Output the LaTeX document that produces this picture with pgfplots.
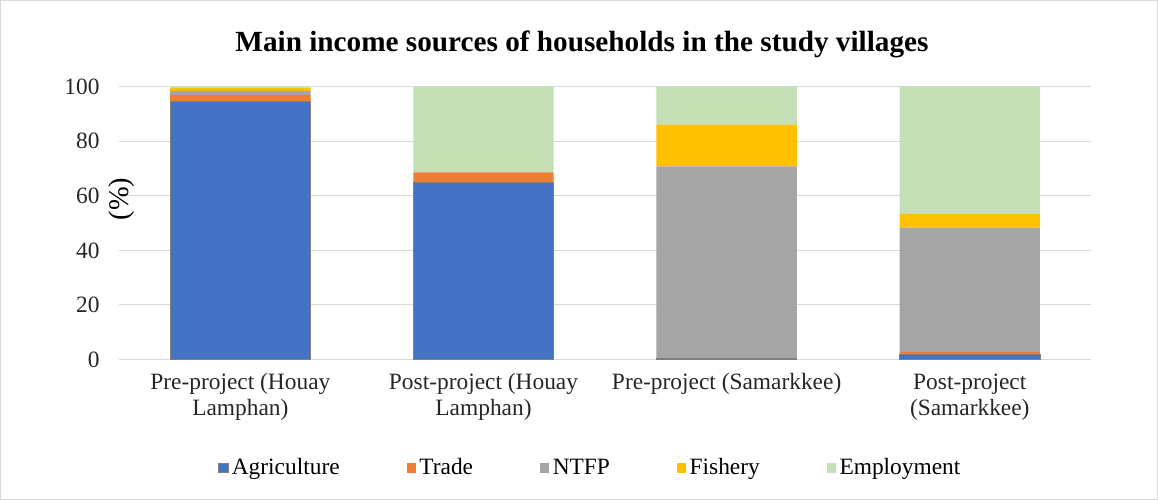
\documentclass[border=0pt]{standalone}
\usepackage{pgfplots}
\pgfplotsset{compat=1.18}
\usepackage{fontspec}
\setmainfont{Liberation Serif}
\definecolor{cAgr}{HTML}{4472C4}
\definecolor{cTra}{HTML}{ED7D31}
\definecolor{cNTF}{HTML}{A5A5A5}
\definecolor{cFis}{HTML}{FFC000}
\definecolor{cEmp}{HTML}{C5E0B4}
\definecolor{cGrid}{HTML}{D9D9D9}
\begin{document}
\begin{tikzpicture}
\draw[cGrid, line width=0.6pt] (-70.8pt,-84pt) rectangle (621.6pt,214.8pt);
\begin{axis}[
  at={(0,0)}, anchor=south west,
  scale only axis, width=582pt, height=163.2pt,
  ybar stacked, bar width=84pt,
  xmin=-0.5, xmax=3.5, ymin=0, ymax=100,
  xtick={0,1,2,3},
  xticklabels={{Pre-project (Houay\\Lamphan)},{Post-project (Houay\\Lamphan)},{Pre-project (Samarkkee)},{Post-project\\(Samarkkee)}},
  xticklabel style={align=center, font=\fontsize{14}{15.5}\selectfont, text=black!85, yshift=-5pt},
  ytick={0,20,...,100},
  yticklabel style={font=\fontsize{14}{15}\selectfont, text=black!85, xshift=-8pt},
  /pgf/number format/assume math mode=true,
  ymajorgrids, grid style={cGrid, line width=0.6pt},
  axis x line*=bottom, axis y line*=left,
  x axis line style={cGrid, line width=0.8pt},
  y axis line style={draw=none},
  major tick length=0pt,
  legend style={at={(282.6pt,-65pt)}, anchor=center, draw=none, legend columns=5,
    font=\fontsize{14}{15}\selectfont, /tikz/every even column/.append style={column sep=38pt}},
  legend image code/.code={\fill[#1] (0cm,-0.1cm) rectangle (0.2cm,0.1cm);},
  legend cell align=left,
]
\addplot[fill=cAgr, draw=gray, line width=0.4pt] coordinates {(0,94.5) (1,65) (2,0.5) (3,1.7)};
\addplot[fill=cTra, draw=none] coordinates {(0,2.5) (1,3.6) (2,0) (3,1.0)};
\addplot[fill=cNTF, draw=none] coordinates {(0,1.5) (1,0) (2,70.3) (3,45.6)};
\addplot[fill=cFis, draw=none] coordinates {(0,1.0) (1,0) (2,15.3) (3,5.1)};
\addplot[fill=cEmp, draw=none] coordinates {(0,0.5) (1,31.4) (2,13.9) (3,46.6)};
\legend{Agriculture, Trade, NTFP, Fishery, Employment}
\end{axis}
\node[font=\bfseries\fontsize{17.5}{19}\selectfont] at (277.2pt,188.5pt) {Main income sources of households in the study villages};
\node[rotate=90, font=\fontsize{17}{18}\selectfont] at (1.5pt,96pt) {(\%)};
\end{tikzpicture}
\end{document}
